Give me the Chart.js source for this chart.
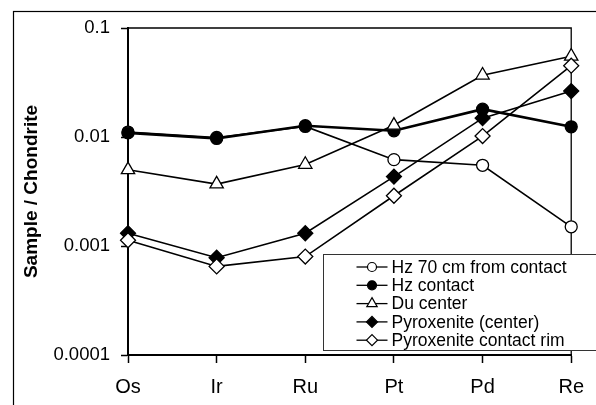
<!DOCTYPE html>
<html>
<head>
<meta charset="utf-8">
<script src="https://cdn.jsdelivr.net/npm/chart.js@4/dist/chart.umd.min.js"></script>
<style>
  html, body { margin: 0; padding: 0; background: #fff; }
  #wrap { width: 596px; height: 405px; overflow: hidden; }
</style>
</head>
<body>
<div id="wrap"><canvas id="grafico" width="596" height="405"></canvas></div>
<script>
// datos
const elementos = ['Os', 'Ir', 'Ru', 'Pt', 'Pd', 'Re'];
const hz70cm = [0.0111, 0.0099, 0.0125, 0.0062, 0.0055, 0.0015];
const hzContacto = [0.0109, 0.0097, 0.0127, 0.0114, 0.0180, 0.0124];
const duCentro = [0.0050, 0.0037, 0.0056, 0.0128, 0.0369, 0.0551];
const piroxCentro = [0.00131, 0.00078, 0.00131, 0.00433, 0.0149, 0.0264];
const piroxBorde = [0.00113, 0.00065, 0.00080, 0.00289, 0.0102, 0.0451];
const yTicks = [0.0001, 0.001, 0.01, 0.1];
const yTickLabels = ['0.0001', '0.001', '0.01', '0.1'];

const fuente = "'Liberation Sans', Arial, sans-serif";

function serie(label, data, estilo, relleno, radio, grosor, orden) {
    return {
        label: label,
        data: data,
        borderColor: '#000',
        borderWidth: grosor,
        pointStyle: estilo,
        pointRadius: radio,
        pointHoverRadius: radio,
        pointBackgroundColor: relleno,
        pointBorderColor: '#000',
        pointBorderWidth: 1.3,
        tension: 0,
        fill: false,
        order: orden
    };
}

// marco exterior y borde superior/derecho del area de trazado
const marcoPlugin = {
    id: 'marco',
    beforeDraw(chart) {
        const ctx = chart.ctx;
        ctx.save();
        ctx.fillStyle = '#fff';
        ctx.fillRect(0, 0, chart.width, chart.height);
        ctx.strokeStyle = '#000';
        ctx.lineWidth = 1.2;
        ctx.strokeRect(13.5, 11.5, 700, 500);
        ctx.restore();
    },
    beforeDatasetsDraw(chart) {
        const a = chart.chartArea;
        const ctx = chart.ctx;
        ctx.save();
        ctx.strokeStyle = '#000';
        ctx.lineWidth = 1.3;
        ctx.beginPath();
        ctx.moveTo(a.left, a.top);
        ctx.lineTo(a.right, a.top);
        ctx.lineTo(a.right, a.bottom);
        ctx.stroke();
        ctx.restore();
    }
};

// leyenda dibujada dentro del area, como en la figura
const leyendaPlugin = {
    id: 'leyenda',
    afterDraw(chart) {
        const a = chart.chartArea;
        const ctx = chart.ctx;
        const x0 = a.left + 195.5;
        const y0 = a.top + 226.5;
        ctx.save();
        ctx.fillStyle = '#fff';
        ctx.strokeStyle = '#333';
        ctx.lineWidth = 1;
        ctx.fillRect(x0, y0, 400, 96);
        ctx.strokeRect(x0, y0, 400, 96);
        const radios = { circle: 4.5, triangle: 6, rectRot: 5.5 };
        chart.data.datasets.forEach((ds, i) => {
            const y = y0 + 12.5 + i * 18.3;
            ctx.strokeStyle = '#000';
            ctx.lineWidth = 1.3;
            ctx.beginPath();
            ctx.moveTo(x0 + 33, y);
            ctx.lineTo(x0 + 64, y);
            ctx.stroke();
            ctx.fillStyle = ds.pointBackgroundColor;
            ctx.strokeStyle = '#000';
            ctx.lineWidth = 1.2;
            Chart.helpers.drawPoint(ctx, {
                pointStyle: ds.pointStyle,
                radius: radios[ds.pointStyle],
                rotation: 0,
                borderWidth: 1.2
            }, x0 + 48.5, y);
            ctx.fillStyle = '#000';
            ctx.font = '17.5px ' + fuente;
            ctx.textAlign = 'left';
            ctx.textBaseline = 'middle';
            ctx.fillText(ds.label, x0 + 68, y + 1);
        });
        ctx.restore();
    }
};

const ctx = document.getElementById('grafico').getContext('2d');
new Chart(ctx, {
    type: 'line',
    data: {
        labels: elementos,
        datasets: [
            serie('Hz 70 cm from contact', hz70cm, 'circle', '#fff', 6, 1.6, 5),
            serie('Hz contact', hzContacto, 'circle', '#000', 6, 2.6, 4),
            serie('Du center', duCentro, 'triangle', '#fff', 7.7, 1.6, 3),
            serie('Pyroxenite (center)', piroxCentro, 'rectRot', '#000', 7.5, 1.6, 2),
            serie('Pyroxenite contact rim', piroxBorde, 'rectRot', '#fff', 7.5, 1.6, 1)
        ]
    },
    options: {
        responsive: false,
        animation: false,
        layout: { padding: { top: 28, right: 18, left: 0, bottom: 0 } },
        plugins: {
            legend: { display: false },
            tooltip: { enabled: false }
        },
        scales: {
            x: {
                type: 'category',
                offset: false,
                grid: {
                    offset: false,
                    drawOnChartArea: false,
                    drawTicks: true,
                    tickLength: 8,
                    tickColor: '#000',
                    tickWidth: 1.5
                },
                border: { color: '#000', width: 2 },
                ticks: {
                    color: '#000',
                    font: { family: fuente, size: 20 },
                    padding: 12,
                    autoSkip: false,
                    maxRotation: 0
                },
                afterFit(scale) { scale.height = 50; }
            },
            y: {
                type: 'logarithmic',
                min: 0.0001,
                max: 0.1,
                afterBuildTicks(scale) {
                    scale.ticks = yTicks.map(v => ({ value: v }));
                },
                grid: {
                    drawOnChartArea: false,
                    drawTicks: true,
                    tickLength: 7,
                    tickColor: '#000',
                    tickWidth: 1.5
                },
                border: { color: '#000', width: 2 },
                ticks: {
                    color: '#000',
                    font: { family: fuente, size: 18.5 },
                    padding: 11,
                    callback: (valor, i) => yTickLabels[i]
                },
                title: {
                    display: true,
                    text: 'Sample / Chondrite',
                    color: '#000',
                    font: { family: fuente, size: 19, weight: 'bold' },
                    padding: { top: 20, bottom: 0 }
                },
                afterFit(scale) { scale.width = 128; }
            }
        }
    },
    plugins: [marcoPlugin, leyendaPlugin]
});
</script>
</body>
</html>
